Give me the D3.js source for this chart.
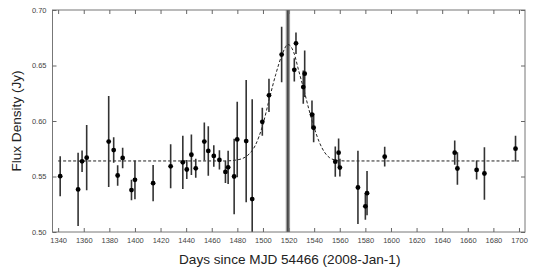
<!DOCTYPE html>
<html>
<head>
<meta charset="utf-8">
<script src="https://cdn.jsdelivr.net/npm/d3@7"></script>
<style>
  body { margin: 0; background: #fff; }
  svg { font-family: "Liberation Sans", Arial, sans-serif; }
</style>
</head>
<body>
<div id="chart"></div>
<script>
// observation days (since MJD 54466)
const days = [1341.6, 1355.6, 1358.7, 1362.3, 1379.5, 1383.4, 1386.5, 1390.4, 1397.3, 1400.0,
  1414.2, 1427.9, 1437.4, 1440.5, 1444.1, 1447.5, 1454.2, 1457.3, 1461.6, 1466.0,
  1470.7, 1472.8, 1477.5, 1479.9, 1486.9, 1491.6, 1499.5, 1504.7, 1514.6, 1524.5,
  1525.8, 1531.5, 1532.6, 1538.3, 1539.6, 1556.5, 1559.1, 1560.1, 1574.2, 1580.0,
  1581.3, 1595.1, 1649.8, 1651.9, 1666.9, 1673.0, 1697.3];
// flux density (Jy)
const flux = [0.5503, 0.5384, 0.5637, 0.5670, 0.5815, 0.5738, 0.5509, 0.5667, 0.5378, 0.5470,
  0.5440, 0.5592, 0.5628, 0.5563, 0.5696, 0.5574, 0.5815, 0.5730, 0.5685, 0.5649,
  0.5541, 0.5583, 0.5500, 0.5834, 0.5819, 0.5297, 0.5993, 0.6231, 0.6598, 0.6461,
  0.6700, 0.6306, 0.6426, 0.6058, 0.5939, 0.5634, 0.5715, 0.5580, 0.5401, 0.5231,
  0.5350, 0.5679, 0.5715, 0.5572, 0.5559, 0.5527, 0.5751];
// 1-sigma errors
const fluxErr = [0.0180, 0.0330, 0.0097, 0.0293, 0.0410, 0.0115, 0.0092, 0.0092, 0.0092, 0.0174,
  0.0164, 0.0198, 0.0240, 0.0085, 0.0183, 0.0086, 0.0171, 0.0223, 0.0097, 0.0087,
  0.0100, 0.0150, 0.0340, 0.0340, 0.0550, 0.0900, 0.0127, 0.0150, 0.0250, 0.0105,
  0.0097, 0.0150, 0.0210, 0.0127, 0.0130, 0.0137, 0.0127, 0.0080, 0.0330, 0.0120,
  0.0200, 0.0090, 0.0110, 0.0146, 0.0085, 0.0236, 0.0115];

// model curve (dashed)
const modelDays = [1340, 1470, 1480, 1488, 1494, 1500, 1505, 1510, 1515, 1519.5,
  1524, 1528, 1532, 1536, 1540, 1544, 1548, 1552, 1558, 1565, 1700];
const modelFlux = [0.564, 0.564, 0.565, 0.569, 0.578, 0.597, 0.620, 0.642, 0.660, 0.669,
  0.662, 0.645, 0.628, 0.610, 0.594, 0.581, 0.572, 0.567, 0.5645, 0.564, 0.564];

// flare epoch marker
const flareDay = 1519.5;
const flareBand = [1517.8, 1521.2];

const xTicks = d3.range(1340, 1701, 20);
const yTicks = [0.50, 0.55, 0.60, 0.65, 0.70];

const W = 544, H = 270;
const margin = { left: 52.5, right: 525, top: 10, bottom: 232 };

const x = d3.scaleLinear().domain([1335.6, 1704.7]).range([margin.left, margin.right]);
const y = d3.scaleLinear().domain([0.50, 0.70]).range([margin.bottom, margin.top]);

const svg = d3.select("#chart").append("svg")
  .attr("width", W)
  .attr("height", H);

svg.append("defs").append("clipPath").attr("id", "plotclip")
  .append("rect")
  .attr("x", margin.left).attr("y", margin.top)
  .attr("width", margin.right - margin.left).attr("height", margin.bottom - margin.top);

const plot = svg.append("g").attr("clip-path", "url(#plotclip)");

// flare band + line
plot.append("rect")
  .attr("x", x(flareBand[0]))
  .attr("width", x(flareBand[1]) - x(flareBand[0]))
  .attr("y", margin.top).attr("height", margin.bottom - margin.top)
  .attr("fill", "#9a9a9a");
plot.append("line")
  .attr("x1", x(flareDay)).attr("x2", x(flareDay))
  .attr("y1", margin.top).attr("y2", margin.bottom)
  .attr("stroke", "#222").attr("stroke-width", 1.2);

// dashed model
const model = modelDays.map((d, i) => [d, modelFlux[i]]);
plot.append("path")
  .datum(model)
  .attr("fill", "none")
  .attr("stroke", "#222")
  .attr("stroke-width", 1)
  .attr("stroke-dasharray", "3,2")
  .attr("d", d3.line().x(d => x(d[0])).y(d => y(d[1])).curve(d3.curveMonotoneX));

// error bars
const pts = days.map((d, i) => ({ day: d, f: flux[i], e: fluxErr[i] }));
plot.selectAll(".err").data(pts).enter().append("line")
  .attr("x1", d => x(d.day)).attr("x2", d => x(d.day))
  .attr("y1", d => y(d.f - d.e)).attr("y2", d => y(d.f + d.e))
  .attr("stroke", "#333").attr("stroke-width", 1.6);

plot.selectAll(".pt").data(pts).enter().append("circle")
  .attr("cx", d => x(d.day)).attr("cy", d => y(d.f))
  .attr("r", 2.4)
  .attr("fill", "#000");

// frame
svg.append("rect")
  .attr("x", margin.left).attr("y", margin.top)
  .attr("width", margin.right - margin.left).attr("height", margin.bottom - margin.top)
  .attr("fill", "none").attr("stroke", "#777").attr("stroke-width", 1);

// axes with inward ticks
const tk = 4;
const xb = svg.append("g").attr("transform", "translate(0," + margin.bottom + ")")
  .call(d3.axisBottom(x).tickValues(xTicks).tickSizeInner(-tk).tickSizeOuter(0).tickPadding(6).tickFormat(d3.format("d")));
const xt = svg.append("g").attr("transform", "translate(0," + margin.top + ")")
  .call(d3.axisTop(x).tickValues(xTicks).tickSizeInner(-tk).tickSizeOuter(0).tickFormat(""));
const yl = svg.append("g").attr("transform", "translate(" + margin.left + ",0)")
  .call(d3.axisLeft(y).tickValues(yTicks).tickSizeInner(-tk).tickSizeOuter(0).tickPadding(6).tickFormat(d3.format(".2f")));
const yr = svg.append("g").attr("transform", "translate(" + margin.right + ",0)")
  .call(d3.axisRight(y).tickValues(yTicks).tickSizeInner(-tk).tickSizeOuter(0).tickFormat(""));

[xb, xt, yl, yr].forEach(g => {
  g.select(".domain").remove();
  g.selectAll(".tick line").attr("stroke", "#666");
  g.selectAll(".tick text").attr("fill", "#444").style("font-size", "7.5px");
});

// axis titles
svg.append("text")
  .attr("x", (margin.left + margin.right) / 2 + 1)
  .attr("y", 264)
  .attr("text-anchor", "middle")
  .style("font-size", "13.6px")
  .attr("fill", "#222")
  .text("Days since MJD 54466 (2008-Jan-1)");

svg.append("text")
  .attr("transform", "translate(21," + ((margin.top + margin.bottom) / 2) + ") rotate(-90)")
  .attr("text-anchor", "middle")
  .style("font-size", "13.6px")
  .attr("fill", "#222")
  .text("Flux Density (Jy)");
</script>
</body>
</html>
